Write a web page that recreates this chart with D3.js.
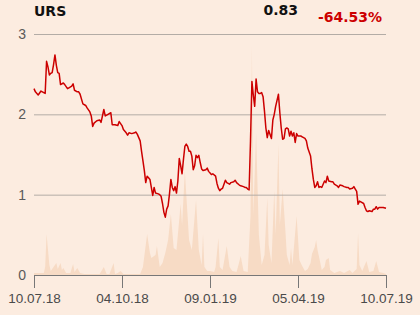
<!DOCTYPE html>
<html>
<head>
<meta charset="utf-8">
<script src="https://cdn.jsdelivr.net/npm/d3@7"></script>
<style>
  html, body { margin: 0; padding: 0; background: #fcece0; }
  svg { display: block; font-family: "DejaVu Sans", sans-serif; }
</style>
</head>
<body>
<svg id="canvas" width="420" height="315"></svg>
<script>
// price, trading-day index -> close
let priceDays = [0,1,3,5,7,8,9,10,11,12,13,14,15,16,17,18,19,21,22,24,25,27,28,29,31,32,33,35,37,38,40,41,42,43,45,47,48,
  50,51,53,55,56,58,60,61,63,64,66,67,68,70,72,73,74,76,77,78,79,80,81,82,83,84,85,86,87,89,90,91,92,93,94,95,96,97,98,99,100,
  101,102,103,104,105,106,107,108,109,110,111,112,113,114,115,116,117,118,119,120,121,123,124,125,127,128,130,131,132,133,134,135,
  137,138,140,141,143,144,145,147,148,150,151,152,153,154,155,156,157,158,159,160,161,162,163,164,165,166,167,168,169,170,171,172,173,
  175,176,177,178,179,180,181,182,183,184,185,186,187,188,189,191,192,194,195,196,198,199,200,201,202,203,204,205,206,208,209,210,211,
  213,214,215,217,218,219,221,222,224,225,226,228,229,230,231,232,233,234,236,237,238,239,240,242,243,244,245,246,247,249,250,252];
let prices = [2.32,2.28,2.24,2.29,2.27,2.26,2.66,2.59,2.49,2.51,2.52,2.62,2.74,2.61,2.52,2.51,2.37,2.39,2.37,2.32,2.33,2.35,2.38,2.30,2.28,2.28,2.25,2.13,2.11,2.08,2.03,1.98,1.85,1.89,1.92,1.93,1.90,
  2.06,1.98,2.00,2.02,1.87,1.87,1.86,1.91,1.86,1.81,1.77,1.74,1.77,1.76,1.77,1.78,1.75,1.67,1.54,1.42,1.30,1.15,1.23,1.21,1.19,1.09,0.99,1.09,1.02,1.01,1.00,0.98,0.89,0.78,0.72,0.82,0.86,1.01,1.19,1.09,1.05,
  1.10,1.02,1.17,1.45,1.36,1.26,1.44,1.60,1.63,1.60,1.54,1.54,1.48,1.31,1.36,1.49,1.46,1.49,1.40,1.32,1.30,1.31,1.33,1.29,1.25,1.26,1.23,1.14,1.08,1.05,1.07,1.08,
  1.18,1.15,1.13,1.15,1.16,1.18,1.15,1.12,1.11,1.10,1.09,1.09,1.07,1.06,1.67,2.41,2.24,2.10,2.44,2.28,2.26,2.26,2.27,2.22,2.04,1.83,1.71,1.80,1.75,1.70,1.93,2.00,2.10,
  2.25,2.02,1.83,1.69,1.70,1.82,1.83,1.82,1.73,1.79,1.73,1.77,1.65,1.76,1.73,1.73,1.72,1.70,1.67,1.58,1.48,1.32,1.19,1.09,1.11,1.16,1.09,1.10,1.09,1.17,1.15,1.23,1.17,
  1.16,1.16,1.13,1.11,1.09,1.12,1.11,1.10,1.09,1.09,1.07,1.08,1.10,1.07,1.04,0.88,0.92,0.91,0.89,0.84,0.80,0.79,0.80,0.79,0.82,0.82,0.85,0.82,0.84,0.84,0.84,0.83];

// volume, trading-day index -> shares (thousands)
let volumeDays = [0,7,8,9,11,12,14,16,17,19,20,21,23,26,28,29,31,33,36,47,50,52,54,57,58,60,62,64,76,78,81,83,84,87,88,90,92,94,96,98,100,102,105,106,108,
  111,113,116,118,120,121,122,124,126,129,130,132,133,135,138,140,142,145,146,148,150,153,155,156,157,159,161,163,165,167,168,170,172,173,175,176,178,180,181,183,
  184,185,188,190,192,194,196,198,199,201,202,203,205,206,208,209,211,212,215,219,222,226,228,231,232,233,235,238,240,243,245,247,250,252];
let volumes = [20,20,80,410,100,40,80,120,60,120,50,70,20,20,110,30,70,20,10,10,80,10,10,120,10,20,40,10,10,80,410,220,170,200,290,80,120,220,350,610,270,250,710,500,1040,
  350,250,750,250,100,410,80,40,40,30,80,370,80,50,290,80,40,30,80,190,40,30,600,2290,600,1420,400,100,200,770,300,120,850,400,1310,500,860,440,200,100,
  270,100,590,150,90,40,60,120,210,280,350,250,120,50,80,150,170,50,20,40,20,50,20,60,420,100,40,140,30,40,140,30,20,10];

let tickDays = [0, 63, 126, 189, 252];
let tickLabels = ['10.07.18', '04.10.18', '09.01.19', '05.04.19', '10.07.19'];
let yTicks = [0, 1, 2, 3];

let ticker = 'URS';
let lastPrice = '0.83';
let change = '-64.53%';

let canvas = d3.select('#canvas');
let plotLeft = 34, plotRight = 386, plotTop = 34, plotBottom = 275;

let xScale = d3.scaleLinear().domain([0, 252]).range([plotLeft, plotRight]);
let yScale = d3.scaleLinear().domain([0, 3]).range([plotBottom, plotTop]);
let vScale = d3.scaleLinear().domain([0, 2410]).range([plotBottom, plotTop]);

// volume area
let volData = volumeDays.map((d, i) => ({day: d, v: volumes[i]}));
canvas.append('path')
  .datum(volData)
  .attr('fill', '#f7dbc5')
  .attr('d', d3.area()
    .x(d => xScale(d.day))
    .y0(plotBottom)
    .y1(d => vScale(d.v)));

// gridlines + y labels
let yAxis = canvas.append('g')
  .attr('transform', 'translate(' + plotLeft + ',0)')
  .call(d3.axisLeft(yScale).tickValues(yTicks).tickSize(-(plotRight - plotLeft)).tickPadding(8).tickFormat(d3.format('d')));
yAxis.select('.domain').remove();
yAxis.selectAll('line').attr('stroke', '#b3aca6').attr('stroke-width', 1)
  .filter(d => d === 0).remove();
yAxis.selectAll('text').attr('fill', '#5a5a5a').style('font-size', '14px').attr('x', -8);

// x axis
let xAxis = canvas.append('g')
  .attr('transform', 'translate(0,' + plotBottom + ')')
  .call(d3.axisBottom(xScale).tickValues(tickDays).tickSize(13).tickPadding(5)
    .tickFormat((d, i) => tickLabels[i]));
xAxis.select('.domain').attr('stroke', '#777').attr('d', 'M' + plotLeft + ',0.5H' + plotRight);
xAxis.selectAll('line').attr('stroke', '#777');
xAxis.selectAll('text').attr('fill', '#4a4a4a').style('font-size', '13.5px');

// price line
let priceData = priceDays.map((d, i) => ({day: d, p: prices[i]}));
canvas.append('path')
  .datum(priceData)
  .attr('fill', 'none')
  .attr('stroke', '#cc0000')
  .attr('stroke-width', 1.5)
  .attr('stroke-linejoin', 'round')
  .attr('d', d3.line()
    .x(d => xScale(d.day))
    .y(d => yScale(d.p)));

// header
canvas.append('text').attr('x', 34).attr('y', 16).text(ticker)
  .style('font-size', '14px').style('font-weight', 'bold').attr('fill', '#111');
canvas.append('text').attr('x', 298).attr('y', 15).attr('text-anchor', 'end').text(lastPrice)
  .style('font-size', '14px').style('font-weight', 'bold').attr('fill', '#111');
canvas.append('text').attr('x', 382).attr('y', 22).attr('text-anchor', 'end').text(change)
  .style('font-size', '14px').style('font-weight', 'bold').attr('fill', '#cc0000');
</script>
</body>
</html>
